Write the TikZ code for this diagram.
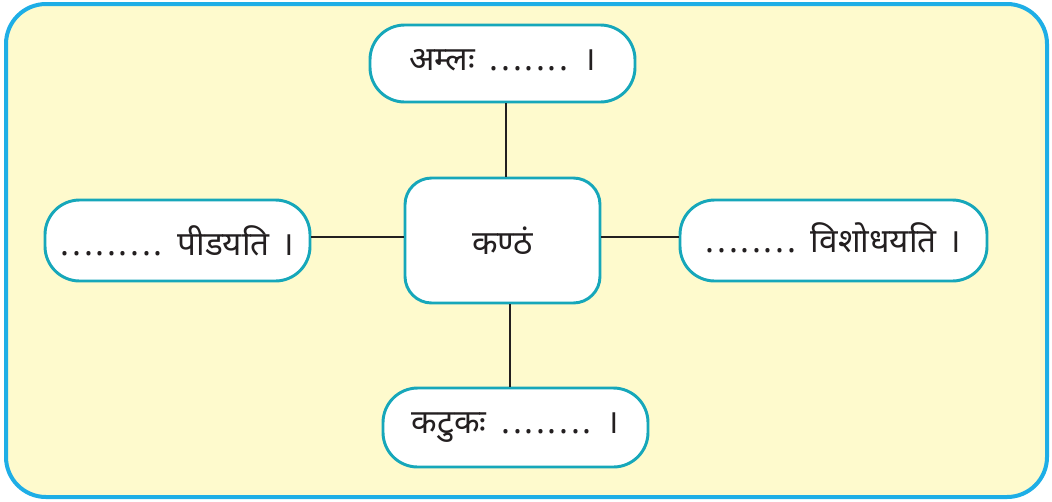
\documentclass[tikz,border=0pt]{standalone}
\usepackage{fontspec}
\newfontfamily\deva[Script=Devanagari]{Noto Sans}
\definecolor{outerblue}{HTML}{1EAEE6}
\definecolor{bgyellow}{HTML}{FEFACD}
\definecolor{nodeteal}{HTML}{16A7BA}
\definecolor{linedark}{HTML}{231F20}
\newcommand{\dd}{.\hspace{0.08em}}
\newcommand{\gap}{\hspace{0.45em}}
\newcommand{\gapd}{\hspace{0.35em}}
\tikzset{
  box/.style={draw=nodeteal, line width=2.2pt, fill=white, rounded corners=26pt,
    inner sep=0pt, font=\deva\fontsize{25}{29}\selectfont, text=linedark},
  link/.style={draw=linedark, line width=1.6pt}
}
\begin{document}
\begin{tikzpicture}[x=0.75pt,y=-0.75pt]
\useasboundingbox (0,0) rectangle (1052,501);
\draw[draw=outerblue, fill=bgyellow, line width=3pt, rounded corners=30pt] (6,4) rectangle (1047,497);
\node[box, minimum width=195*0.75pt, minimum height=125*0.75pt, rounded corners=20pt] (c) at (502.5,240.5) {कण्ठं};
\node[box, minimum width=265*0.75pt, minimum height=77*0.75pt] (t) at (502.5,63.5) {\raisebox{6pt}{अम्लः\gap\dd\dd\dd\dd\dd\dd.\gap।}};
\node[box, minimum width=265*0.75pt, minimum height=81*0.75pt] (l) at (177.5,240.5) {\dd\dd\dd\dd\dd\dd\dd\dd.\gap पीडयति\gapd।};
\node[box, minimum width=307*0.75pt, minimum height=81*0.75pt] (r) at (833.5,240.5) {\raisebox{5pt}{\dd\dd\dd\dd\dd\dd\dd.\gap विशोधयति\gapd।}};
\node[box, minimum width=265*0.75pt, minimum height=79*0.75pt] (b) at (515.5,427.5) {\raisebox{-7pt}{कटुकः\gap\dd\dd\dd\dd\dd\dd\dd.\gap।}};
\coordinate (tx) at (506,0);
\coordinate (bx) at (510,0);
\coordinate (ly) at (0,237);
\draw[link] (t.south -| tx) -- (c.north -| tx);
\draw[link] (b.north -| bx) -- (c.south -| bx);
\draw[link] (l.east |- ly) -- (c.west |- ly);
\draw[link] (r.west |- ly) -- (c.east |- ly);
\end{tikzpicture}
\end{document}
